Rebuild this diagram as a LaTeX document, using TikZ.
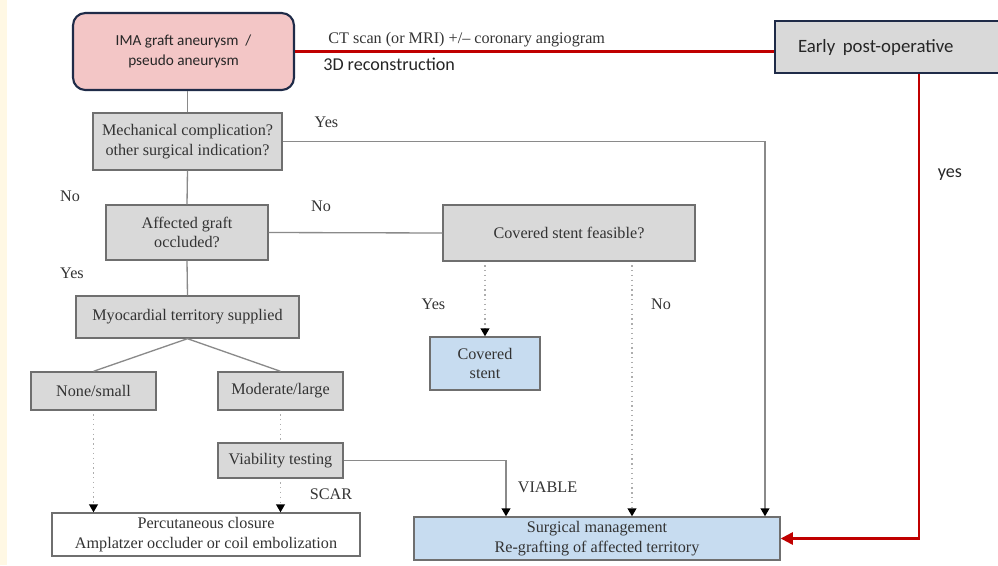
\documentclass[tikz,border=0pt]{standalone}
\usepackage{fontspec}
\setmainfont{Liberation Serif}
\newfontfamily\calibri{Carlito}
\usetikzlibrary{arrows.meta}
\definecolor{boxgray}{HTML}{D9D9D9}
\definecolor{boxblue}{HTML}{C7DCF0}
\definecolor{boxpink}{HTML}{F3C6C6}
\definecolor{edgegray}{HTML}{6F6F6F}
\definecolor{linegray}{HTML}{8A8A8A}
\definecolor{txtgray}{HTML}{333333}
\definecolor{navy}{HTML}{1F2B48}
\definecolor{redline}{HTML}{C00000}
\definecolor{cream}{HTML}{FFF8E4}

\begin{document}
\begin{tikzpicture}[x=0.02cm,y=-0.02cm,
  box/.style={draw=edgegray,line width=0.8pt,fill=boxgray,text=txtgray,
    font=\fontsize{9.2}{11}\selectfont,align=center,inner sep=1pt},
  bluebox/.style={box,fill=boxblue},
  lbl/.style={text=txtgray,font=\fontsize{9.2}{11}\selectfont,inner sep=0pt},
  sanslbl/.style={text=black!85,font=\calibri\fontsize{10.3}{12}\selectfont,inner sep=0pt},
  conn/.style={draw=linegray,line width=0.75pt},
  dots/.style={draw=linegray!70,line width=0.75pt,dotted},
  tip/.style={-{Triangle[length=4.5pt,width=5pt,color=black]}},
  redconn/.style={draw=redline,line width=1.3pt}]
\fill[white] (0,0) rectangle (998,565);
\useasboundingbox (0,0) rectangle (998,565);
\fill[cream] (0,0) rectangle (7,565);

\node[box,fill=boxpink,draw=navy,line width=1.2pt,rounded corners=7pt,
  minimum width=4.42cm,minimum height=1.54cm,text=black!85,
  font=\calibri\fontsize{8.7}{11.3}\selectfont] (ima) at (183.5,51.5)
  {IMA graft aneurysm~~/\\pseudo aneurysm};
\node[box,draw=navy,line width=1.2pt,anchor=west,minimum height=1.04cm,
  text width=4.1cm,align=left,inner xsep=0.46cm,text=black!85,
  font=\calibri\fontsize{10.7}{12}\selectfont] (early) at (774,47)
  {Early\hspace{0.4em}post-operative};
\node[box,minimum width=3.78cm,minimum height=1.14cm] (mech) at (187.5,141.5)
  {Mechanical complication?\\other surgical indication?};
\node[box,minimum width=3.24cm,minimum height=1.10cm] (aff) at (187,232.5)
  {Affected graft\\occluded?};
\node[box,minimum width=5.04cm,minimum height=1.12cm] (feas) at (569,233)
  {Covered stent feasible?};
\node[box,minimum width=4.46cm,minimum height=0.84cm] (myo) at (187.5,317)
  {Myocardial territory supplied};
\node[box,minimum width=2.50cm,minimum height=0.76cm] (none) at (93.5,391)
  {None/small};
\node[box,minimum width=2.50cm,minimum height=0.76cm] (mod) at (280.5,391)
  {Moderate/large};
\node[box,minimum width=2.50cm,minimum height=0.70cm] (via) at (280.5,460.5)
  {Viability testing};
\node[box,fill=white,minimum width=6.16cm,minimum height=0.86cm] (perc) at (206,534.5)
  {Percutaneous closure\\Amplatzer occluder or coil embolization};
\node[bluebox,minimum width=2.20cm,minimum height=1.06cm] (stent) at (485,363.5)
  {Covered\\stent};
\node[bluebox,minimum width=7.32cm,minimum height=0.86cm] (surg) at (597,538.5)
  {Surgical management\\Re-grafting of affected territory};

\coordinate (yescol) at (765,0);
\coordinate (viacol) at (506,0);
\coordinate (nocol) at (632,0);
\coordinate (redcol) at (919,0);

\draw[redconn] (ima.east) -- (ima.east -| early.west);
\draw[redconn,-{Triangle[length=7pt,width=7pt]}] (redcol |- early.south) |- (surg.east);

\draw[conn] (mech.north) -- (mech.north |- ima.south);
\draw[conn] (mech.south) -- (aff.north);
\draw[conn] (aff.south) -- (myo.north);
\draw[conn] (myo.south) -- (none.north);
\draw[conn] (myo.south) -- (mod.north);
\draw[conn] (aff.east) -- (feas.west);
\draw[conn,tip] (mech.east) -| (yescol |- surg.north);
\draw[conn,tip] (via.east) -| (viacol |- surg.north);
\draw[dots,tip] ([yshift=-2pt]stent.north |- feas.south) -- (stent.north);
\draw[dots,tip] ([yshift=-2pt]nocol |- feas.south) -- (nocol |- surg.north);
\draw[dots,tip] ([yshift=-2pt]none.south) -- (none.south |- perc.north);
\draw[dots] ([yshift=-2pt]mod.south) -- (via.north);
\draw[dots,tip] ([yshift=-2pt]via.south) -- (via.south |- perc.north);

\node[lbl,anchor=west] (ctlbl) at (328,40) {CT scan (or MRI) +/-- coronary angiogram};
\node[sanslbl,anchor=west] (recon) at (323,64) {3D reconstruction};
\node[sanslbl] (yesred) at (950,175) {yes};
\node[lbl] (yesmech) at (326.5,122) {Yes};
\node[lbl] (nomech) at (70,196) {No};
\node[lbl] (noaff) at (321,206) {No};
\node[lbl] (yesaff) at (72,273) {Yes};
\node[lbl] (yesfeas) at (433.5,304) {Yes};
\node[lbl] (nofeas) at (661,304) {No};
\node[lbl] (scar) at (331,494) {SCAR};
\node[lbl] (viable) at (547.5,487) {VIABLE};
\end{tikzpicture}
\end{document}
